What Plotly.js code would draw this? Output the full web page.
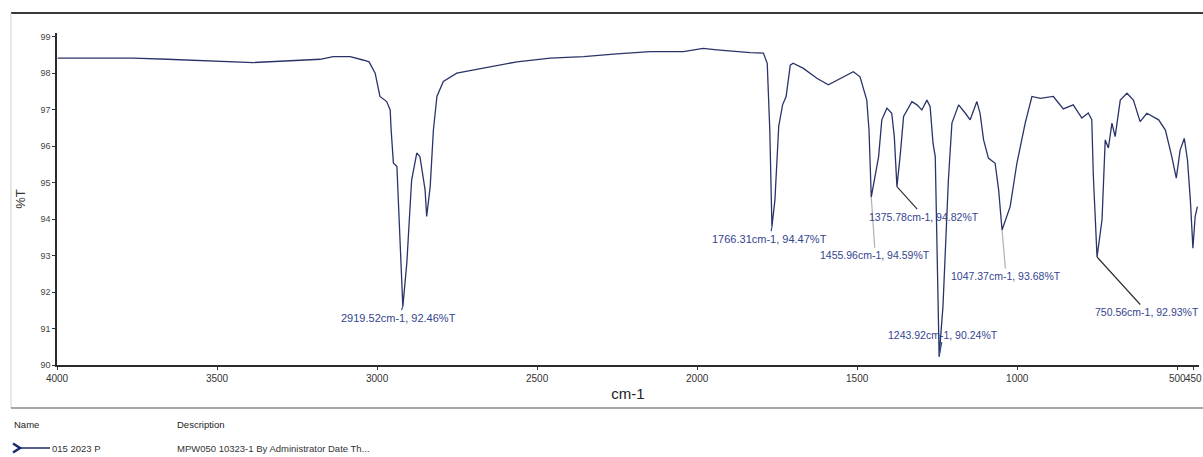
<!DOCTYPE html>
<html>
<head>
<meta charset="utf-8">
<script src="https://cdn.plot.ly/plotly-3.0.1.min.js"></script>
<style>
  html, body { margin: 0; padding: 0; background: #ffffff; }
  #chart { width: 1203px; height: 457px; }
</style>
</head>
<body>
<div id="chart"></div>
<script>
// ---- Data ----
const wavenumber = [
  3998, 3762, 3656, 3512, 3387, 3272, 3178, 3137, 3084, 3044, 3025, 3006, 2991, 2970, 2959, 2956,
  2949, 2938, 2919.52, 2907, 2892, 2876, 2866, 2850, 2845, 2834, 2824, 2813, 2793, 2751, 2668,
  2563, 2459, 2355, 2251, 2147, 2043, 1981, 1938, 1834, 1793, 1781, 1773, 1769, 1766.31, 1757,
  1745, 1733, 1722, 1709, 1700, 1668, 1626, 1590, 1553, 1512, 1491, 1470, 1463, 1455.96, 1433,
  1423, 1407, 1392, 1384, 1375.78, 1365, 1355, 1329, 1313, 1298, 1282, 1272, 1263, 1256, 1251,
  1243.92, 1232, 1225, 1215, 1204, 1183, 1162, 1147, 1126, 1116, 1105, 1090, 1069, 1058,
  1047.37, 1022, 1001, 975, 954, 928, 887, 856, 825, 798, 778, 767, 762, 755, 750.56, 735, 725,
  715, 704, 694, 678, 657, 637, 616, 595, 558, 537, 517, 503, 491, 478, 468, 459, 451, 444, 437
];
const transmittance = [
  98.41, 98.41, 98.38, 98.33, 98.29, 98.34, 98.38, 98.45, 98.45, 98.36, 98.31, 98.00, 97.36, 97.22, 96.99, 96.44,
  95.54, 95.44, 91.60, 92.80, 95.07, 95.81, 95.71, 94.80, 94.07, 94.89, 96.44, 97.36, 97.77, 98.00, 98.13,
  98.31, 98.41, 98.45, 98.53, 98.59, 98.59, 98.68, 98.64, 98.56, 98.55, 98.27, 96.44, 94.61, 93.79, 94.52,
  96.55, 97.13, 97.36, 98.22, 98.27, 98.13, 97.86, 97.68, 97.86, 98.04, 97.90, 97.26, 96.44, 94.60, 95.71,
  96.72, 97.04, 96.90, 96.26, 94.89, 95.80, 96.81, 97.22, 97.13, 96.99, 97.26, 97.08, 96.08, 95.71, 93.70,
  90.23, 91.60, 93.15, 95.07, 96.63, 97.13, 96.90, 96.72, 97.22, 96.90, 96.17, 95.67, 95.53, 94.80,
  93.70, 94.34, 95.53, 96.63, 97.36, 97.31, 97.36, 97.02, 97.13, 96.77, 96.91, 96.72, 95.16, 93.79, 92.96, 93.98, 96.17,
  95.95, 96.63, 96.26, 97.26, 97.45, 97.26, 96.67, 96.90, 96.72, 96.44, 95.71, 95.12, 95.89, 96.21, 95.62, 94.52, 93.20, 94.07, 94.34
];

// Peak labels
const peakWn = [2919.52, 1766.31, 1455.96, 1375.78, 1243.92, 1047.37, 750.56];
const peakT  = [91.60, 93.79, 94.60, 94.89, 90.23, 93.70, 92.96];
const peakText = [
  "2919.52cm-1, 92.46%T",
  "1766.31cm-1, 94.47%T",
  "1455.96cm-1, 94.59%T",
  "1375.78cm-1, 94.82%T",
  "1243.92cm-1, 90.24%T",
  "1047.37cm-1, 93.68%T",
  "750.56cm-1, 92.93%T"
];

// Axis ticks
const xTickVals = [4000, 3500, 3000, 2500, 2000, 1500, 1000, 500, 450];
const xTickText = ["4000", "3500", "3000", "2500", "2000", "1500", "1000", "500", "450"];
const yTickVals = [90, 91, 92, 93, 94, 95, 96, 97, 98, 99];
const yTickText = ["90", "91", "92", "93", "94", "95", "96", "97", "98", "99"];

// Legend table
const tableHeaders = ["Name", "Description"];
const sampleName = "015 2023 P";
const sampleDesc = "MPW050 10323-1 By Administrator Date Th...";

// ---- Styling (layout only) ----
const FONT = "'Liberation Sans', Arial, sans-serif";
const LABEL_BLUE = "#34458f";
// offsets (pixels) of each label from its peak point, sizes and leader colours
const labelAx = [-4, -2, 4, 27, 4, 4, 50];
const labelAy = [11, 12, 58, 30, -22, 46, 55];
const labelSize = [11, 11, 10.5, 10.5, 10.5, 10.5, 10.5];
const leaderColor = ["#34458f", "#34458f", "#b0b0b0", "#333333", "#34458f", "#b0b0b0", "#333333"];

const trace = {
  x: wavenumber,
  y: transmittance,
  type: "scatter",
  mode: "lines",
  line: { color: "#2a3468", width: 1.3 },
  hoverinfo: "x+y",
  showlegend: false
};

const annotations = peakWn.map((wn, i) => ({
  x: wn, y: peakT[i], xref: "x", yref: "y",
  text: peakText[i],
  showarrow: true, arrowhead: 0, arrowwidth: 1.2,
  arrowcolor: leaderColor[i],
  ax: labelAx[i], ay: labelAy[i],
  font: { family: FONT, size: labelSize[i], color: LABEL_BLUE }
}));

// plot geometry helpers for paper coordinates (plot: x 57..1199, y 33..365)
const PL = 57, PW = 1142, PB = 365, PH = 332;
const px = v => (v - PL) / PW;
const py = v => (PB - v) / PH;

annotations.push(
  { xref: "paper", yref: "paper", x: px(12), y: py(424), xanchor: "left", yanchor: "middle",
    text: tableHeaders[0], showarrow: false, font: { family: FONT, size: 9.5, color: "#222" } },
  { xref: "paper", yref: "paper", x: px(175), y: py(424), xanchor: "left", yanchor: "middle",
    text: tableHeaders[1], showarrow: false, font: { family: FONT, size: 9.5, color: "#222" } },
  { xref: "paper", yref: "paper", x: px(50), y: py(448), xanchor: "left", yanchor: "middle",
    text: sampleName, showarrow: false, font: { family: FONT, size: 9.5, color: "#333" } },
  { xref: "paper", yref: "paper", x: px(175), y: py(448), xanchor: "left", yanchor: "middle",
    text: sampleDesc, showarrow: false, font: { family: FONT, size: 9.5, color: "#333" } }
);

const shapes = [
  // top frame line
  { type: "line", xref: "paper", yref: "paper", x0: px(11), x1: px(1203), y0: py(13), y1: py(13),
    line: { color: "#3a3a3a", width: 2 } },
  // left frame line
  { type: "line", xref: "paper", yref: "paper", x0: px(11), x1: px(11), y0: py(13), y1: py(408),
    line: { color: "#cfcfcf", width: 1 } },
  // separator above legend table
  { type: "line", xref: "paper", yref: "paper", x0: px(11), x1: px(1203), y0: py(408), y1: py(408),
    line: { color: "#8a8a8a", width: 1.5 } },
  // legend icon chevron
  { type: "path", xref: "paper", yref: "paper",
    path: `M ${px(13)} ${py(443.5)} L ${px(20)} ${py(448)} L ${px(13)} ${py(452.5)}`,
    line: { color: "#1b2a6b", width: 2.5 } },
  // legend icon line
  { type: "line", xref: "paper", yref: "paper", x0: px(19), x1: px(50), y0: py(448), y1: py(448),
    line: { color: "#1b2a6b", width: 1.5 } }
];

const layout = {
  width: 1203, height: 457,
  margin: { l: 57, r: 4, t: 33, b: 92, pad: 0 },
  paper_bgcolor: "#ffffff", plot_bgcolor: "#ffffff",
  showlegend: false,
  xaxis: {
    range: [4000, 432],
    tickmode: "array", tickvals: xTickVals, ticktext: xTickText,
    ticks: "outside", ticklen: 3, tickcolor: "#333", tickwidth: 1,
    tickangle: 0,
    showline: true, linecolor: "#2b2b2b", linewidth: 1.6,
    showgrid: false, zeroline: false,
    ticklabeloverflow: "allow",
    tickfont: { family: FONT, size: 10, color: "#333" },
    title: { text: "cm-1", font: { family: FONT, size: 15, color: "#222" }, standoff: 6 },
    automargin: false
  },
  yaxis: {
    range: [90, 99.1],
    tickmode: "array", tickvals: yTickVals, ticktext: yTickText,
    ticks: "outside", ticklen: 3, tickcolor: "#333", tickwidth: 1,
    showline: true, linecolor: "#2b2b2b", linewidth: 1.6,
    showgrid: false, zeroline: false,
    tickfont: { family: FONT, size: 9, color: "#444" },
    title: { text: "%T", font: { family: FONT, size: 13, color: "#333" }, standoff: 12 },
    automargin: false
  },
  annotations: annotations,
  shapes: shapes
};

Plotly.newPlot("chart", [trace], layout, { displayModeBar: false, staticPlot: true });
</script>
</body>
</html>
